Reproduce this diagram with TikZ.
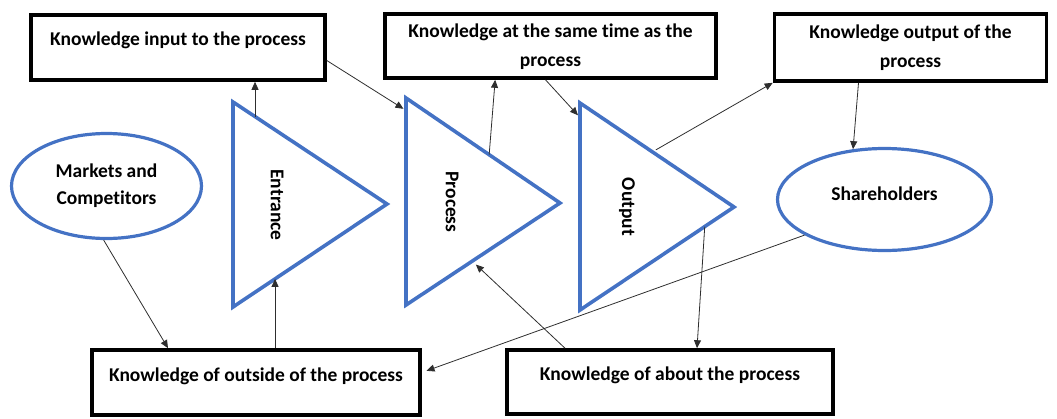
\documentclass[tikz,border=0pt]{standalone}
\usepackage{fontspec}
\setmainfont{Carlito}[Ligatures=NoCommon]
\usetikzlibrary{arrows.meta,positioning,calc,shapes.geometric}
\definecolor{ofblue}{HTML}{4472C4}
\definecolor{arrgray}{HTML}{2E2E2E}

\begin{document}
\begin{tikzpicture}[x=1pt,y=-1pt,
      kbox/.style={draw=black,line width=3.6pt,inner sep=0pt},
      ktext/.style={font=\fontsize{19.5}{29}\selectfont\bfseries,align=center,inner sep=0pt},
      party/.style={ellipse,draw=ofblue,line width=3.2pt,inner sep=0pt,align=center,
        font=\fontsize{19.5}{27}\selectfont\bfseries},
      stage/.style={draw=ofblue,line width=3.6pt,line join=miter},
      arr/.style={-{Triangle[length=8pt,width=7pt]},line width=0.8pt,draw=arrgray}]
    \useasboundingbox (0,0) rectangle (1057,418);

    % knowledge boxes
    \node[kbox,minimum width=294pt,minimum height=65pt] (inbox) at (178,47.5) {};
    \node[ktext] (intxt) at ([yshift=7.5pt]inbox.center) {Knowledge input to the process};
    \node[kbox,minimum width=331pt,minimum height=64pt] (samebox) at (550.5,46) {};
    \node[ktext] (sametxt) at ([yshift=-1pt]samebox.center) {Knowledge at the same time as the\\process};
    \node[kbox,minimum width=272pt,minimum height=67pt] (outbox) at (910.5,47.5) {};
    \node[ktext] (outtxt) at (outbox.center) {Knowledge output of the\\process};
    \node[kbox,minimum width=328pt,minimum height=65pt] (outside) at (256,382.5) {};
    \node[ktext] (outsidetxt) at ([yshift=6.5pt]outside.center) {Knowledge of outside of the process};
    \node[kbox,minimum width=326pt,minimum height=64pt] (about) at (670,382) {};
    \node[ktext] (abouttxt) at ([yshift=7pt]about.center) {Knowledge of about the process};

    % outside parties
    \node[party,minimum width=190pt,minimum height=105pt] (mkt) at (106.5,186) {Markets and\\Competitors};
    \node[party,minimum width=214pt,minimum height=102pt,text depth=12pt] (share) at (884.5,199.5) {Shareholders};

    % the three stages
    \coordinate (entA) at (233,102);
    \coordinate (entB) at (233,307);
    \coordinate (entT) at (387,204);
    \coordinate (procA) at (406,98);
    \coordinate (procB) at (406,305);
    \coordinate (procT) at (560,203);
    \coordinate (outpA) at (580,103);
    \coordinate (outpB) at (580,310);
    \coordinate (outpT) at (734,207);
    \draw[stage] (entA) -- (entT) -- (entB) -- cycle;
    \draw[stage] (procA) -- (procT) -- (procB) -- cycle;
    \draw[stage] (outpA) -- (outpT) -- (outpB) -- cycle;
    \node[ktext,rotate=-90] (entlbl) at (277,205) {Entrance};
    \node[ktext,rotate=-90] (proclbl) at (452,202) {Process};
    \node[ktext,rotate=-90] (outplbl) at (627,207) {Output};

    % where the arrows meet the stages
    \coordinate (entUp) at ($(entA)!0.143!(entT)$);
    \coordinate (entLow) at ($(entB)!0.273!(entT)$);
    \coordinate (procIn) at ($(procA)!0.06!(procB)$);
    \coordinate (procUp) at ($(procA)!0.54!(procT)$);
    \coordinate (procLow) at ($(procB)!0.43!(procT)$);
    \coordinate (outpIn) at ($(outpA)!0.07!(outpB)$);
    \coordinate (outpUp) at ($(outpA)!0.47!(outpT)$);
    \coordinate (outpLow) at ($(outpB)!0.81!(outpT)$);

    \draw[arr] (entUp) -- (entUp |- inbox.south);
    \draw[arr,shorten >=3pt] (inbox.-5) -- (procIn);
    \draw[arr] (procUp) -- ($(procUp |- samebox.south)+(6,0)$);
    \draw[arr,shorten >=3pt] ([xshift=-5pt]samebox.south) -- (outpIn);
    \draw[arr,shorten <=4pt] (outpUp) -- (outbox.south west);
    \draw[arr] ([xshift=-52pt]outbox.south) -- (share.122);
    \draw[arr] (mkt.-93) -- ([xshift=-88pt]outside.north);
    \draw[arr] (entLow |- outside.north) -- (entLow);
    \draw[arr,shorten >=5pt] (share.204) -- ([yshift=10pt]outside.east);
    \draw[arr,shorten >=5pt] ([xshift=-105pt]about.north) -- (procLow);
    \draw[arr] (outpLow) -- ([xshift=27pt]about.north);
  \end{tikzpicture}
\end{document}
